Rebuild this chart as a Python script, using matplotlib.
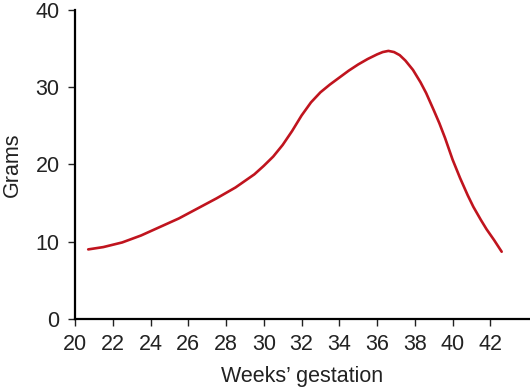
import matplotlib
matplotlib.use('Agg')
import matplotlib.pyplot as plt

# Values
weeks = [20.7, 21.5, 22.5, 23.5, 24.5, 25.5, 26.5, 27.5, 28.5, 29.5,
         30.0, 30.5, 31.0, 31.5, 32.0, 32.5, 33.0, 33.5, 34.0, 34.5,
         35.0, 35.5, 36.0, 36.3, 36.6, 36.9, 37.2, 37.5, 37.9, 38.3,
         38.6, 39.0, 39.3, 39.6, 40.0, 40.4, 40.8, 41.1, 41.5, 41.8,
         42.2, 42.6]
grams = [9.0, 9.3, 9.9, 10.8, 11.9, 13.0, 14.3, 15.6, 17.0, 18.7,
         19.8, 21.0, 22.5, 24.3, 26.3, 28.0, 29.3, 30.3, 31.2, 32.1,
         32.9, 33.6, 34.2, 34.5, 34.65, 34.5, 34.1, 33.4, 32.2, 30.6,
         29.2, 27.0, 25.3, 23.4, 20.6, 18.2, 16.0, 14.5, 12.8, 11.6,
         10.2, 8.7]

x_ticks = list(range(20, 43, 2))
y_ticks = [0, 10, 20, 30, 40]

plt.rcParams['font.family'] = ['Liberation Sans', 'DejaVu Sans']

fig = plt.figure(figsize=(5.3, 3.91), dpi=100)
ax = fig.add_axes([0.1415, 0.184, 0.8585, 0.7917])

ax.plot(weeks, grams, color='#c0141e', lw=1.9, solid_capstyle='round',
        solid_joinstyle='round')

ax.set_xlim(20, 44.1)
ax.set_ylim(0, 40)
ax.set_xticks(x_ticks)
ax.set_yticks(y_ticks)

for side in ['top', 'right']:
    ax.spines[side].set_visible(False)
for side in ['left', 'bottom']:
    ax.spines[side].set_linewidth(1.6)

ax.tick_params(direction='out', length=5, width=1.0, labelsize=15.5,
               colors='#222222', pad=6)
ax.set_xlabel('Weeks\u2019 gestation', fontsize=15.5, color='#222222', labelpad=8)
ax.set_ylabel('Grams', fontsize=15.5, color='#222222', labelpad=9)

fig.savefig('out.png', dpi=100)
